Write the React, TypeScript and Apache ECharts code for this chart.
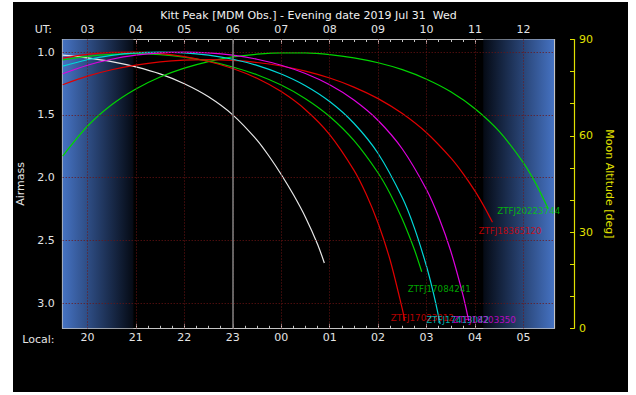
import { useEffect, useRef } from 'react';
import * as echarts from 'echarts';

// Night window (UT hours), twilight limits and the time marker
const nightStartUT = 2.49;
const nightEndUT = 12.63;
const eveningTwilightUT = 3.95;
const morningTwilightUT = 11.17;
const markerUT = 6.0;
const utcOffset = -7;

// Axis ticks and labels
const hourTicks = [3, 4, 5, 6, 7, 8, 9, 10, 11, 12];
const quarterTicks = [
  2.5, 2.75, 3, 3.25, 3.5, 3.75, 4, 4.25, 4.5, 4.75, 5, 5.25, 5.5, 5.75, 6, 6.25, 6.5, 6.75,
  7, 7.25, 7.5, 7.75, 8, 8.25, 8.5, 8.75, 9, 9.25, 9.5, 9.75, 10, 10.25, 10.5, 10.75, 11,
  11.25, 11.5, 11.75, 12, 12.25, 12.5,
];
const airmassLabels = [1.0, 1.5, 2.0, 2.5, 3.0];
const airmassTicks = [
  0.9, 1.0, 1.1, 1.2, 1.3, 1.4, 1.5, 1.6, 1.7, 1.8, 1.9, 2.0, 2.1, 2.2, 2.3, 2.4, 2.5, 2.6,
  2.7, 2.8, 2.9, 3.0, 3.1, 3.2,
];
const moonLabels = [0, 30, 60, 90];

// Airmass tracks: UT hour and airmass
const whiteUT = [2.49, 3.0, 3.5, 4.0, 4.5, 5.0, 5.5, 6.0, 6.5, 6.75, 7.0, 7.25, 7.5, 7.75, 7.89];
const whiteAM = [1.024, 1.046, 1.076, 1.118, 1.174, 1.252, 1.356, 1.5, 1.701, 1.83, 1.975, 2.135, 2.315, 2.53, 2.68];

const j2022UT = [2.49, 3.0, 3.5, 4.0, 4.5, 5.0, 5.5, 6.0, 6.5, 7.0, 7.5, 8.0, 8.5, 9.0, 9.5, 10.0, 10.5, 11.0, 11.5, 12.0, 12.25, 12.51];
const j2022AM = [1.828, 1.591, 1.42, 1.294, 1.199, 1.128, 1.076, 1.039, 1.017, 1.006, 1.007, 1.02, 1.046, 1.085, 1.14, 1.216, 1.316, 1.451, 1.632, 1.882, 2.044, 2.247];

const j1836UT = [2.49, 3.0, 3.5, 4.0, 4.5, 5.0, 5.5, 6.0, 6.5, 7.0, 7.5, 8.0, 8.5, 9.0, 9.5, 10.0, 10.5, 10.75, 11.0, 11.2, 11.36];
const j1836AM = [1.26, 1.192, 1.141, 1.104, 1.078, 1.064, 1.06, 1.067, 1.083, 1.111, 1.152, 1.207, 1.279, 1.371, 1.49, 1.643, 1.843, 1.966, 2.108, 2.239, 2.356];

const j1820UT = [2.49, 3.0, 3.5, 4.0, 4.5, 5.0, 5.5, 6.0, 6.5, 7.0, 7.5, 8.0, 8.5, 9.0, 9.5, 10.0, 10.25, 10.5, 10.75, 10.87];
const j1820AM = [1.173, 1.105, 1.057, 1.025, 1.007, 1.001, 1.007, 1.025, 1.057, 1.105, 1.171, 1.261, 1.382, 1.545, 1.772, 2.096, 2.314, 2.586, 2.934, 3.14];

const j1741UT = [2.49, 3.0, 3.5, 4.0, 4.5, 5.0, 5.5, 6.0, 6.5, 7.0, 7.5, 8.0, 8.5, 9.0, 9.5, 9.75, 10.0, 10.15, 10.28];
const j1741AM = [1.112, 1.061, 1.027, 1.007, 1.0, 1.006, 1.025, 1.057, 1.106, 1.175, 1.268, 1.394, 1.567, 1.808, 2.161, 2.402, 2.708, 2.934, 3.164];

const j1708UT = [2.49, 3.0, 3.5, 4.0, 4.5, 5.0, 5.5, 6.0, 6.5, 7.0, 7.5, 8.0, 8.5, 9.0, 9.25, 9.5, 9.75, 9.9];
const j1708AM = [1.062, 1.034, 1.018, 1.013, 1.02, 1.04, 1.072, 1.119, 1.181, 1.263, 1.371, 1.513, 1.704, 1.963, 2.13, 2.332, 2.575, 2.75];

const j1702UT = [2.49, 3.0, 3.5, 4.0, 4.5, 5.0, 5.5, 6.0, 6.5, 7.0, 7.5, 8.0, 8.5, 8.75, 9.0, 9.25, 9.5, 9.55];
const j1702AM = [1.048, 1.018, 1.003, 1.001, 1.012, 1.036, 1.075, 1.131, 1.209, 1.315, 1.459, 1.657, 1.94, 2.129, 2.364, 2.66, 3.048, 3.14];

const FONT = 'DejaVu Sans';
const frameGray = '#c4c4c4';
const textGray = '#e4e4e4';
const moonYellow = '#e0e000';

type Track = {
  name: string;
  ut: number[];
  am: number[];
  color: string;
  labelOffset?: [number, number];
};

const tracks: Track[] = [
  { name: '', ut: whiteUT, am: whiteAM, color: '#e8e8e8' },
  { name: 'ZTFJ20223744', ut: j2022UT, am: j2022AM, color: '#00d400', labelOffset: [-51, 2] },
  { name: 'ZTFJ18365120', ut: j1836UT, am: j1836AM, color: '#e00000', labelOffset: [-14, 9] },
  { name: 'ZTFJ17084241', ut: j1708UT, am: j1708AM, color: '#00cc00', labelOffset: [-14, 17] },
  { name: 'ZTFJ17023012', ut: j1702UT, am: j1702AM, color: '#e00000', labelOffset: [-14, -3] },
  { name: 'ZTFJ17413042', ut: j1741UT, am: j1741AM, color: '#00d8d8', labelOffset: [-14, -4] },
  { name: 'ZTFJ18203350', ut: j1820UT, am: j1820AM, color: '#e000e0', labelOffset: [-16, -1] },
];

const pad2 = (v: number) => String(Math.round(v)).padStart(2, '0');

function buildOption() {
  const twilightBlue = '#4572c2';
  const gradEvening = new echarts.graphic.LinearGradient(0, 0, 1, 0, [
    { offset: 0, color: twilightBlue },
    { offset: 1, color: '#050a14' },
  ]);
  const gradMorning = new echarts.graphic.LinearGradient(0, 0, 1, 0, [
    { offset: 0, color: '#050a14' },
    { offset: 1, color: twilightBlue },
  ]);

  const baseX = { type: 'value', min: nightStartUT, max: nightEndUT, splitLine: { show: false } };
  const baseAM = { type: 'value', inverse: true, min: 0.9, max: 3.2, splitLine: { show: false } };
  const labelText = { color: textGray, fontSize: 11, fontFamily: FONT };

  const series: any[] = [
    {
      type: 'line',
      data: [],
      z: 1,
      silent: true,
      markArea: {
        silent: true,
        data: [
          [{ xAxis: nightStartUT, itemStyle: { color: gradEvening } }, { xAxis: eveningTwilightUT }],
          [{ xAxis: morningTwilightUT, itemStyle: { color: gradMorning } }, { xAxis: nightEndUT }],
        ],
      },
    },
    {
      type: 'line',
      data: [],
      z: 2,
      silent: true,
      markLine: {
        silent: true,
        symbol: ['none', 'none'],
        label: { show: false },
        lineStyle: { color: '#6e1414', type: [1, 2], width: 1 },
        data: [
          ...hourTicks.map((h) => ({ xAxis: h })),
          ...airmassLabels.map((a) => ({ yAxis: a })),
        ],
      },
    },
    {
      type: 'line',
      data: [],
      z: 2,
      silent: true,
      markLine: {
        silent: true,
        symbol: ['none', 'none'],
        label: { show: false },
        lineStyle: { color: '#7a7a7a', type: 'solid', width: 1.6 },
        data: [{ xAxis: markerUT }],
      },
    },
  ];

  tracks.forEach((t) => {
    series.push({
      type: 'line',
      name: t.name,
      z: 3,
      showSymbol: false,
      smooth: 0.3,
      lineStyle: { color: t.color, width: 1.2 },
      data: t.ut.map((u, i) => [u, t.am[i]]),
    });
  });

  tracks.forEach((t) => {
    if (!t.name) return;
    const last = t.ut.length - 1;
    series.push({
      type: 'scatter',
      name: t.name + ' label',
      z: 4,
      symbolSize: 0,
      silent: true,
      data: [[t.ut[last], t.am[last]]],
      label: {
        show: true,
        position: 'right',
        distance: 0,
        offset: t.labelOffset,
        formatter: () => t.name,
        color: t.color,
        fontSize: 8.7,
        fontFamily: FONT,
      },
    });
  });

  return {
    animation: false,
    backgroundColor: '#ffffff',
    grid: { left: 62.7, right: 82, top: 39.5, bottom: 66.7 },
    graphic: [
      {
        type: 'rect',
        z: -100,
        silent: true,
        shape: { x: 13, y: 2, width: 615, height: 390 },
        style: { fill: '#000000' },
      },
      {
        type: 'text',
        x: 308.5,
        y: 15,
        silent: true,
        style: {
          text: 'Kitt Peak [MDM Obs.] - Evening date 2019 Jul 31  Wed',
          fill: '#f0f0f0',
          fontSize: 11,
          fontFamily: FONT,
          align: 'center',
          verticalAlign: 'middle',
        },
      },
      {
        type: 'text',
        x: 52,
        y: 29.5,
        silent: true,
        style: { text: 'UT:', fill: textGray, fontSize: 11, fontFamily: FONT, align: 'right', verticalAlign: 'middle' },
      },
      {
        type: 'text',
        x: 54.5,
        y: 339,
        silent: true,
        style: { text: 'Local:', fill: textGray, fontSize: 11, fontFamily: FONT, align: 'right', verticalAlign: 'middle' },
      },
    ],
    xAxis: [
      {
        ...baseX,
        position: 'bottom',
        axisLine: { show: true, lineStyle: { color: frameGray, width: 1.2 } },
        axisTick: { show: true, inside: true, length: 4.5, customValues: hourTicks, lineStyle: { color: frameGray } },
        axisLabel: {
          ...labelText,
          margin: 4,
          customValues: hourTicks,
          formatter: (v: number) => pad2((v + 24 + utcOffset) % 24),
        },
      },
      {
        ...baseX,
        position: 'top',
        axisLine: { show: true, lineStyle: { color: frameGray, width: 1.2 } },
        axisTick: { show: true, inside: true, length: 4.5, customValues: hourTicks, lineStyle: { color: frameGray } },
        axisLabel: { ...labelText, margin: 4.5, customValues: hourTicks, formatter: (v: number) => pad2(v) },
      },
      {
        ...baseX,
        position: 'bottom',
        axisLine: { show: false },
        axisTick: { show: true, inside: true, length: 2.5, customValues: quarterTicks, lineStyle: { color: frameGray } },
        axisLabel: { show: false },
      },
      {
        ...baseX,
        position: 'top',
        axisLine: { show: false },
        axisTick: { show: true, inside: true, length: 2.5, customValues: quarterTicks, lineStyle: { color: frameGray } },
        axisLabel: { show: false },
      },
    ],
    yAxis: [
      {
        ...baseAM,
        position: 'left',
        name: 'Airmass',
        nameLocation: 'middle',
        nameGap: 31,
        nameRotate: 90,
        nameTextStyle: { ...labelText },
        axisLine: { show: true, lineStyle: { color: frameGray, width: 1.2 } },
        axisTick: { show: true, inside: true, length: 3, customValues: airmassTicks, lineStyle: { color: frameGray } },
        axisLabel: { ...labelText, margin: 8, customValues: airmassLabels, formatter: (v: number) => v.toFixed(1) },
      },
      {
        ...baseAM,
        position: 'right',
        axisLine: { show: true, lineStyle: { color: frameGray, width: 1.2 } },
        axisTick: { show: true, inside: true, length: 3, customValues: airmassTicks, lineStyle: { color: frameGray } },
        axisLabel: { show: false },
      },
      {
        type: 'value',
        position: 'right',
        offset: 20,
        min: 0,
        max: 90,
        interval: 10,
        name: 'Moon Altitude [deg]',
        nameLocation: 'middle',
        nameGap: 18,
        nameRotate: -90,
        nameTextStyle: { color: moonYellow, fontSize: 11, fontFamily: FONT },
        splitLine: { show: false },
        axisLine: { show: true, lineStyle: { color: moonYellow, width: 1.2 } },
        axisTick: { show: true, inside: true, length: 4, lineStyle: { color: moonYellow } },
        axisLabel: {
          color: moonYellow,
          fontSize: 11,
          fontFamily: FONT,
          margin: 5,
          formatter: (v: number) => (moonLabels.includes(v) ? String(v) : ''),
        },
      },
    ],
    series,
  };
}

export default function App() {
  const ref = useRef<HTMLDivElement>(null);
  useEffect(() => {
    if (!ref.current) return;
    const chart = echarts.init(ref.current, null, { renderer: 'svg' });
    chart.setOption(buildOption() as any);
    return () => chart.dispose();
  }, []);
  return (
    <div
      ref={ref}
      style={{ position: 'fixed', left: 0, top: 0, width: 636, height: 395 }}
    />
  );
}
